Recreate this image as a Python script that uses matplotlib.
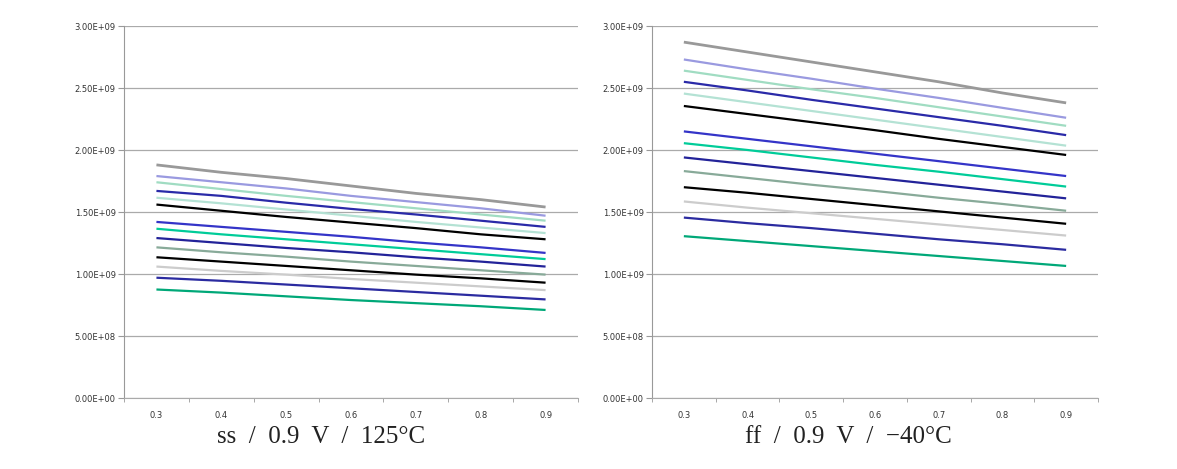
import matplotlib
matplotlib.use("Agg")
import matplotlib.pyplot as plt
from matplotlib.ticker import FuncFormatter, FixedLocator

categories = ["0.3", "0.4", "0.5", "0.6", "0.7", "0.8", "0.9"]

# values in units of 1e9, top line first
ss_values = [
    [1.88, 1.82, 1.77, 1.71, 1.65, 1.60, 1.54],
    [1.79, 1.74, 1.69, 1.63, 1.58, 1.53, 1.47],
    [1.74, 1.685, 1.63, 1.58, 1.53, 1.48, 1.43],
    [1.67, 1.63, 1.575, 1.525, 1.48, 1.43, 1.38],
    [1.615, 1.57, 1.52, 1.47, 1.42, 1.375, 1.33],
    [1.56, 1.51, 1.46, 1.415, 1.37, 1.32, 1.28],
    [1.42, 1.38, 1.34, 1.30, 1.255, 1.215, 1.17],
    [1.365, 1.32, 1.28, 1.24, 1.20, 1.16, 1.12],
    [1.29, 1.25, 1.21, 1.175, 1.135, 1.10, 1.06],
    [1.215, 1.175, 1.14, 1.10, 1.065, 1.03, 0.995],
    [1.135, 1.10, 1.065, 1.03, 0.995, 0.965, 0.93],
    [1.06, 1.025, 0.995, 0.96, 0.93, 0.90, 0.87],
    [0.97, 0.945, 0.915, 0.885, 0.855, 0.825, 0.795],
    [0.875, 0.85, 0.82, 0.79, 0.765, 0.74, 0.71],
]

ff_values = [
    [2.87, 2.79, 2.71, 2.63, 2.55, 2.46, 2.38],
    [2.73, 2.65, 2.575, 2.495, 2.42, 2.34, 2.26],
    [2.64, 2.565, 2.49, 2.42, 2.345, 2.27, 2.195],
    [2.55, 2.48, 2.405, 2.335, 2.265, 2.195, 2.12],
    [2.455, 2.385, 2.315, 2.245, 2.175, 2.105, 2.035],
    [2.355, 2.29, 2.225, 2.16, 2.09, 2.025, 1.96],
    [2.15, 2.09, 2.03, 1.97, 1.91, 1.85, 1.79],
    [2.055, 2.0, 1.94, 1.88, 1.825, 1.765, 1.705],
    [1.94, 1.885, 1.83, 1.775, 1.72, 1.665, 1.61],
    [1.83, 1.775, 1.72, 1.67, 1.615, 1.565, 1.51],
    [1.70, 1.655, 1.605, 1.555, 1.505, 1.455, 1.405],
    [1.585, 1.535, 1.49, 1.445, 1.40, 1.355, 1.31],
    [1.455, 1.41, 1.37, 1.325, 1.28, 1.24, 1.195],
    [1.305, 1.265, 1.225, 1.185, 1.145, 1.105, 1.065],
]

colors = ["#999999", "#9a9ae0", "#a0dcc2", "#2a2aa8", "#b4e2d4", "#000000",
          "#3434c8", "#00cc99", "#232399", "#88aa99", "#000000", "#cccccc",
          "#2b2ba0", "#00a878"]

titles = ["ss  /  0.9  V  /  125°C", "ff  /  0.9  V  /  −40°C"]

fig = plt.figure(figsize=(11.77, 4.69), dpi=100)
ax1 = fig.add_axes([124 / 1177, 71 / 469, 454 / 1177, 372 / 469])
ax2 = fig.add_axes([652 / 1177, 71 / 469, 446 / 1177, 372 / 469])

x = list(range(len(categories)))
for ax, data, title, tx in [(ax1, ss_values, titles[0], 321), (ax2, ff_values, titles[1], 848)]:
    for vals, c in zip(data, colors):
        lw = 2.0 if c == "#999999" else 1.6
        ax.plot(x, [v * 1e9 for v in vals], color=c, lw=lw, solid_capstyle="butt")
    ax.set_xlim(-0.5, len(categories) - 0.5)
    ax.set_ylim(0, 3e9)
    ax.set_yticks([i * 5e8 for i in range(7)])
    ax.yaxis.set_major_formatter(FuncFormatter(lambda v, p: f"{v:.2E}"))
    ax.set_xticks(x)
    ax.set_xticklabels(categories)
    ax.xaxis.set_minor_locator(FixedLocator([i - 0.5 for i in range(len(categories) + 1)]))
    ax.tick_params(axis="x", which="major", length=0, labelsize=6, colors="#333333", pad=9)
    ax.tick_params(axis="x", which="minor", length=3, color="#999999")
    ax.tick_params(axis="y", length=4, color="#999999", labelsize=6, labelcolor="#333333", pad=2)
    ax.grid(axis="y", color="#aaaaaa", lw=0.9)
    ax.set_axisbelow(True)
    for s in ["top", "right"]:
        ax.spines[s].set_visible(False)
    ax.spines["left"].set_color("#999999")
    ax.spines["bottom"].set_color("#aaaaaa")
    fig.text(tx / 1177, 1 - 437 / 469, title, ha="center", va="center",
             fontsize=18, family="Liberation Serif", color="#222222")

fig.savefig("out.png", dpi=100)
